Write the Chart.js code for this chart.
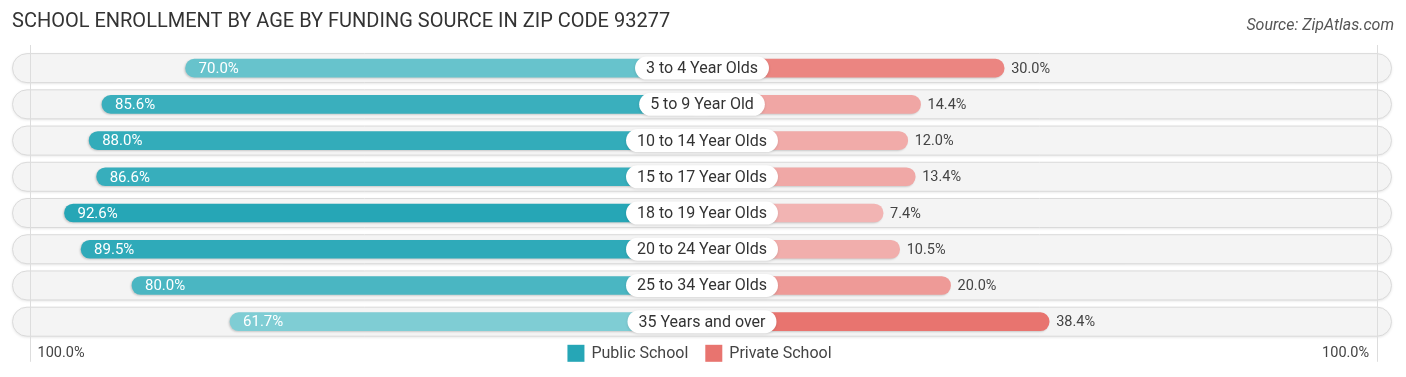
<!DOCTYPE html>
<html>
<head>
<meta charset="utf-8">
<script src="https://cdn.jsdelivr.net/npm/chart.js@4.4.1/dist/chart.umd.min.js"></script>
<style>
html,body{margin:0;padding:0;background:#fff;}
#wrap{position:relative;width:1406px;height:377px;}
#source{position:absolute;right:12px;top:16.5px;font:italic 16px Roboto, sans-serif;line-height:16px;color:#555;white-space:nowrap;}
</style>
</head>
<body>
<div id="wrap">
<canvas id="c" width="1406" height="377"></canvas>
<div id="source">Source: ZipAtlas.com</div>
</div>
<script>
// ---- data ----
const titleText = 'SCHOOL ENROLLMENT BY AGE BY FUNDING SOURCE IN ZIP CODE 93277';
const categories = ['3 to 4 Year Olds','5 to 9 Year Old','10 to 14 Year Olds','15 to 17 Year Olds','18 to 19 Year Olds','20 to 24 Year Olds','25 to 34 Year Olds','35 Years and over'];
const publicSchool = [70.0, 85.6, 88.0, 86.6, 92.6, 89.5, 80.0, 61.7];
const privateSchool = [30.0, 14.4, 12.0, 13.4, 7.4, 10.5, 20.0, 38.4];
const seriesNames = ['Public School', 'Private School'];
const edgeLabels = ['100.0%', '100.0%'];

// ---- layout constants (not data) ----
const OFF = 26.4;   // half-width of the central label zone, in axis units
const LIM = 128.8;  // axis half-range

const PUB_FULL = [38, 166, 182], PUB_LIGHT = [127, 205, 212];
const PRI_FULL = [232, 116, 111], PRI_LIGHT = [242, 180, 179];

function mix(a, b, t) {
  const c = a.map((v, i) => Math.round(v + (b[i] - v) * t));
  return `rgb(${c[0]},${c[1]},${c[2]})`;
}
function shades(vals, light, full) {
  const mn = Math.min(...vals), mx = Math.max(...vals);
  return vals.map(v => mix(light, full, (v - mn) / (mx - mn)));
}
const fmt = v => v.toFixed(1) + '%';

const decor = {
  id: 'decor',
  beforeDatasetsDraw(chart) {
    const {ctx, chartArea: a, scales: {x, y}} = chart;
    const h = 29;
    chart.data.labels.forEach((c, i) => {
      const cy = y.getPixelForValue(i);
      ctx.save();
      ctx.shadowColor = 'rgba(0,0,0,0.12)';
      ctx.shadowBlur = 3;
      ctx.shadowOffsetY = 1;
      ctx.beginPath();
      ctx.roundRect(a.left + 0.5, cy - h / 2, a.right - a.left - 1, h, h / 2);
      ctx.fillStyle = '#f4f4f4';
      ctx.fill();
      ctx.restore();
      ctx.save();
      ctx.strokeStyle = '#dadada';
      ctx.lineWidth = 1;
      ctx.stroke();
      ctx.restore();
    });
    // faint 100% guide lines
    ctx.save();
    ctx.strokeStyle = '#dddddd';
    ctx.lineWidth = 1;
    [-(100 + OFF), 100 + OFF].forEach((v, k) => {
      const px = Math.round(x.getPixelForValue(v) + (k === 0 ? 5 : -2)) + 0.5;
      ctx.beginPath();
      ctx.moveTo(px, a.top - 5);
      ctx.lineTo(px, a.bottom + 22);
      ctx.stroke();
    });
    ctx.restore();
  },
  beforeDatasetDraw(chart) {
    const ctx = chart.ctx;
    ctx.save();
    ctx.shadowColor = 'rgba(0,0,0,0.18)';
    ctx.shadowBlur = 2;
    ctx.shadowOffsetX = -1;
    ctx.shadowOffsetY = 1;
  },
  afterDatasetDraw(chart) {
    chart.ctx.restore();
  },
  afterDatasetsDraw(chart) {
    const {ctx, scales: {x, y}} = chart;
    const cx = x.getPixelForValue(0);
    chart.data.labels.forEach((c, i) => {
      const cy = y.getPixelForValue(i);
      // center pill
      ctx.save();
      ctx.font = '16px Roboto';
      const tw = ctx.measureText(c).width;
      const w = tw + 22, h = 23;
      ctx.shadowColor = 'rgba(0,0,0,0.12)';
      ctx.shadowBlur = 3;
      ctx.shadowOffsetY = 1;
      ctx.beginPath();
      ctx.roundRect(cx - w / 2, cy - h / 2, w, h, h / 2);
      ctx.fillStyle = '#ffffff';
      ctx.fill();
      ctx.restore();
      ctx.save();
      ctx.font = '16px Roboto';
      ctx.fillStyle = '#333333';
      ctx.textAlign = 'center';
      ctx.textBaseline = 'middle';
      ctx.fillText(c, cx, cy + 1);
      // public value label (inside bar)
      const pv = publicSchool[i];
      ctx.font = '15px Roboto';
      ctx.fillStyle = '#ffffff';
      ctx.textAlign = 'left';
      ctx.fillText(fmt(pv), x.getPixelForValue(-(pv + OFF)) + 13, cy + 1);
      // private value label (outside bar)
      const rv = privateSchool[i];
      ctx.font = '14.5px Roboto';
      ctx.fillStyle = '#444444';
      ctx.fillText(fmt(rv), x.getPixelForValue(rv + OFF) + 7, cy + 1);
      ctx.restore();
    });
  },
  afterDraw(chart) {
    const {ctx, chartArea: a, scales: {x}} = chart;
    const ly = a.bottom + 13.5;
    ctx.save();
    // edge labels
    ctx.font = '14.5px Roboto';
    ctx.fillStyle = '#444444';
    ctx.textBaseline = 'middle';
    ctx.textAlign = 'left';
    ctx.fillText(edgeLabels[0], x.getPixelForValue(-(100 + OFF)) + 12.7, ly + 0.5);
    ctx.textAlign = 'right';
    ctx.fillText(edgeLabels[1], x.getPixelForValue(100 + OFF) - 10, ly + 0.5);
    // legend
    ctx.font = '16px Roboto';
    const box = 17, gap = 7, spacing = 17;
    const items = chart.data.datasets.map(d => ({text: d.label, color: d.legendColor}));
    const total = items.reduce((s, it) => s + box + gap + ctx.measureText(it.text).width, 0) + spacing * (items.length - 1);
    let lx = x.getPixelForValue(0) - 2.5 - total / 2;
    ctx.textAlign = 'left';
    items.forEach(it => {
      ctx.fillStyle = it.color;
      ctx.fillRect(lx, ly - box / 2, box, box);
      lx += box + gap;
      ctx.fillStyle = '#444444';
      ctx.fillText(it.text, lx, ly + 0.5);
      lx += ctx.measureText(it.text).width + spacing;
    });
    ctx.restore();
  }
};

new Chart(document.getElementById('c'), {
  type: 'bar',
  data: {
    labels: categories,
    datasets: [
      {
        label: seriesNames[0],
        data: publicSchool.map(v => [-(v + OFF), 0]),
        backgroundColor: shades(publicSchool, PUB_LIGHT, PUB_FULL),
        legendColor: mix(PUB_FULL, PUB_FULL, 0),
        borderRadius: 9,
        borderSkipped: false,
        barThickness: 18,
        grouped: false
      },
      {
        label: seriesNames[1],
        data: privateSchool.map(v => [0, v + OFF]),
        backgroundColor: shades(privateSchool, PRI_LIGHT, PRI_FULL),
        legendColor: mix(PRI_FULL, PRI_FULL, 0),
        borderRadius: 9,
        borderSkipped: false,
        barThickness: 18,
        grouped: false
      }
    ]
  },
  options: {
    indexAxis: 'y',
    responsive: false,
    animation: false,
    devicePixelRatio: 1,
    layout: {padding: {left: 12, right: 14, top: 0, bottom: 37.2}},
    scales: {
      x: {display: false, min: -LIM, max: LIM},
      y: {display: false, offset: true}
    },
    plugins: {
      legend: {display: false},
      tooltip: {enabled: false},
      title: {
        display: true,
        text: titleText,
        align: 'start',
        color: '#333333',
        font: {family: 'Roboto', size: 20, weight: 'normal'},
        padding: {top: 10, bottom: 16}
      }
    }
  },
  plugins: [decor]
});
</script>
</body>
</html>
